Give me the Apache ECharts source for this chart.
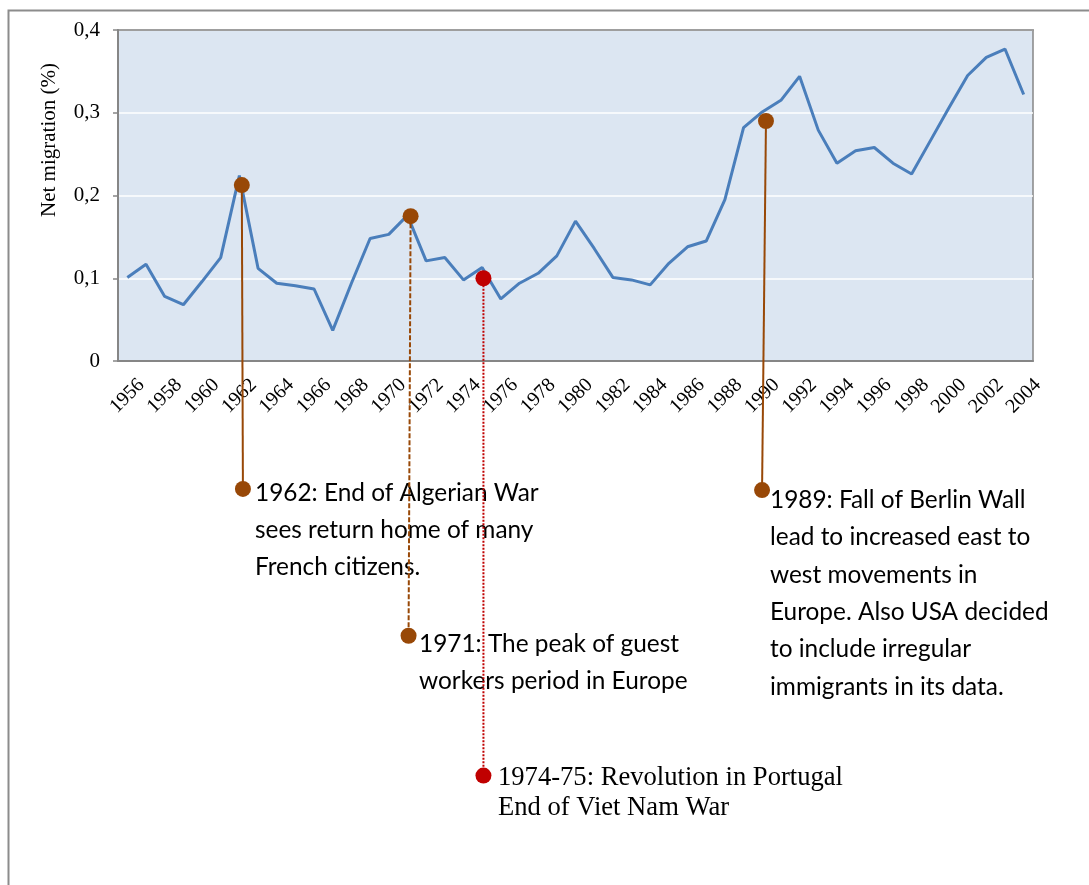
<!DOCTYPE html>
<html>
<head>
<meta charset="utf-8">
<script src="https://cdn.jsdelivr.net/npm/echarts@6/dist/echarts.min.js"></script>
<style>
  html, body { margin: 0; padding: 0; background: #fff; }
</style>
</head>
<body>
<div id="net-migration-chart" style="width: 1089px; height: 885px"></div>
<script>
// years on the category axis
const years = [];
for (let y = 1956; y <= 2004; y++) years.push(String(y));

// net migration (%), one per year
const netMigration = [
  0.101, 0.117, 0.078, 0.068, 0.096, 0.125, 0.224, 0.112, 0.094, 0.091,
  0.087, 0.037, 0.094, 0.148, 0.153, 0.176, 0.121, 0.125, 0.098, 0.113,
  0.075, 0.094, 0.106, 0.127, 0.169, 0.136, 0.101, 0.098, 0.092, 0.118,
  0.138, 0.145, 0.195, 0.282, 0.301, 0.315, 0.344, 0.279, 0.239, 0.254,
  0.258, 0.239, 0.226, 0.266, 0.306, 0.345, 0.367, 0.377, 0.322
];

const yTicks = [0, 0.1, 0.2, 0.3, 0.4];

// callout pins: [year, value] of the marker on the curve and of the one under the axis
const pin1962 = [[1962.13, 0.2126], [1962.19, -0.1546]];
const pin1971 = [[1971.17, 0.175], [1971.06, -0.332]];
const pin1974 = [[1975.07, 0.100], [1975.07, -0.501]];
const pin1989 = [[1990.2, 0.290], [1989.99, -0.156]];

const note1962 = "1962: End of Algerian War\nsees return home of many\nFrench citizens.";
const note1971 = "1971: The peak of guest\nworkers period in Europe";
const note1974 = "1974-75: Revolution in Portugal\nEnd of Viet Nam War";
const note1989 = "1989: Fall of Berlin Wall\nlead to increased east to\nwest movements in\nEurope. Also USA decided\nto include irregular\nimmigrants in its data.";

const brown = "#984807";
const red = "#C00000";
const serif = "'Liberation Serif', 'Times New Roman', serif";
const sans = "Lato, 'Open Sans', sans-serif";

function pinSeries(data, color, type) {
  return {
    type: "line",
    xAxisIndex: 1,
    data: data,
    clip: false,
    symbol: "circle",
    symbolSize: 16,
    silent: true,
    z: 5,
    itemStyle: { color: color },
    lineStyle: { color: color, width: 2, type: type },
  };
}

function note(text, x, y, font, size, lh) {
  return {
    type: "text",
    x: x,
    y: y,
    style: {
      text: text,
      fontFamily: font,
      fontSize: size,
      lineHeight: lh,
      fill: "#000",
      align: "left",
      verticalAlign: "top",
    },
  };
}

const option = {
  animation: false,
  backgroundColor: "#fff",
  grid: {
    left: 118,
    top: 30,
    right: 56,
    bottom: 524,
    show: true,
    backgroundColor: "#DCE6F2",
    borderColor: "#868686",
    borderWidth: 1.5,
  },
  xAxis: [
    {
      type: "category",
      data: years,
      boundaryGap: true,
      axisLine: { lineStyle: { color: "#868686", width: 2 } },
      axisTick: { inside: true, length: 6, interval: 0, lineStyle: { color: "#868686", width: 1.5 } },
      axisLabel: {
        interval: 1,
        rotate: 45,
        align: "center",
        verticalAlign: "middle",
        margin: 35,
        fontFamily: serif,
        fontSize: 20,
        color: "#000",
      },
    },
    {
      type: "value",
      position: "top",
      min: 1955.5,
      max: 2004.5,
      z: 4,
      axisLine: { show: true, onZero: false, lineStyle: { color: "#868686", width: 1.5 } },
      axisTick: { show: false },
      axisLabel: { show: false },
      splitLine: { show: false },
    },
  ],
  yAxis: {
    type: "value",
    min: yTicks[0],
    max: yTicks[yTicks.length - 1],
    interval: 0.1,
    axisLine: { show: true, lineStyle: { color: "#868686", width: 2 } },
    axisTick: { show: true, length: 5, lineStyle: { color: "#868686", width: 1.5 } },
    axisLabel: {
      margin: 18,
      fontFamily: serif,
      fontSize: 21,
      color: "#000",
      formatter: (v) => (v === 0 ? "0" : v.toFixed(1).replace(".", ",")),
    },
    splitLine: { lineStyle: { color: "#fff", width: 1.5 } },
  },
  graphic: [
    {
      type: "rect",
      z: -10,
      shape: { x: 8.5, y: 10.5, width: 1100, height: 900 },
      style: { fill: "none", stroke: "#8c8c8c", lineWidth: 2 },
    },
    {
      type: "text",
      x: 49,
      y: 140,
      rotation: Math.PI / 2,
      style: {
        text: "Net migration (%)",
        fontFamily: serif,
        fontSize: 21,
        fill: "#000",
        align: "center",
        verticalAlign: "middle",
      },
    },
    note(note1962, 255, 474.5, sans, 24.4, 37),
    note(note1971, 419, 625, sans, 24.4, 37.5),
    note(note1989, 770, 481.5, sans, 24.4, 37.3),
    note(note1974, 498, 763, serif, 26.6, 30),
  ],
  series: [
    {
      name: "Net migration",
      type: "line",
      data: netMigration,
      symbol: "none",
      z: 3,
      lineStyle: { color: "#4A7EBB", width: 3 },
    },
    pinSeries(pin1962, brown, "solid"),
    pinSeries(pin1971, brown, [5, 2]),
    pinSeries(pin1974, red, [2, 1.5]),
    pinSeries(pin1989, brown, "solid"),
  ],
};

const myChart = echarts.init(document.getElementById("net-migration-chart"));
myChart.setOption(option);
</script>
</body>
</html>
